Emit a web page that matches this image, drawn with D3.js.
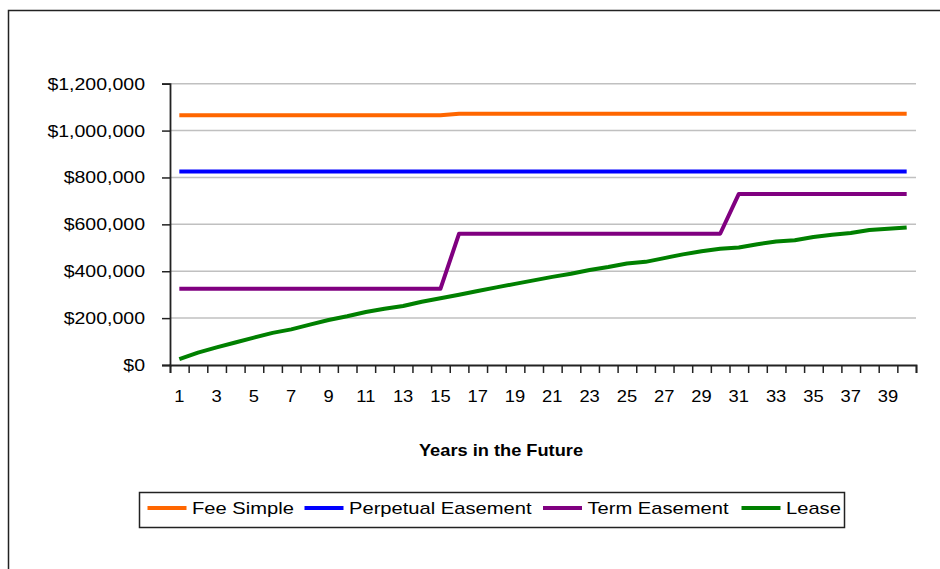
<!DOCTYPE html>
<meta charset="utf-8">
<head>
  <style>
    body { margin:0; background:#fff; }
    text { font-family: Arial, "Liberation Sans", sans-serif; fill:#000; }
  </style>
  <script src="https://d3js.org/d3.v7.min.js"></script>
</head>
<body>
<svg></svg>
<script>
  // data
  var years = d3.range(1, 41)
  var feeSimple = years.map(function (y) { return y <= 15 ? 1065000 : 1072000 })
  var perpetual = years.map(function () { return 825000 })
  var termEasement = years.map(function (y) { return y <= 15 ? 325000 : (y <= 30 ? 560000 : 730000) })
  var lease = [25000, 53000, 75000, 96000, 117000, 137000, 152000, 172000, 192000, 208000,
               226000, 240000, 252000, 270000, 285000, 300000, 316000, 331000, 346000, 361000,
               376000, 389000, 405000, 418000, 433000, 440000, 456000, 472000, 485000, 496000,
               501000, 515000, 527000, 532000, 546000, 556000, 563000, 576000, 581000, 587000]
  var yTicks = [0, 200000, 400000, 600000, 800000, 1000000, 1200000]
  var xLabels = years.filter(function (y) { return y % 2 === 1 })

  var series = [
    { name: "Fee Simple", color: "#ff6600", values: feeSimple },
    { name: "Perpetual Easement", color: "#0000ff", values: perpetual },
    { name: "Term Easement", color: "#800080", values: termEasement },
    { name: "Lease", color: "#008000", values: lease }
  ]

  var width = 940, height = 569
  var svg = d3.select('svg').attr('width', width).attr('height', height)

  // outer frame, runs off the right and bottom edge
  svg.append('rect')
    .attr('x', 8.5).attr('y', 10.5).attr('width', 960).attr('height', 600)
    .attr('fill', 'none').attr('stroke', '#222').attr('stroke-width', 1.5)

  var xEdge = d3.scaleLinear().domain([0, 40]).range([170, 916])
  var x = function (year) { return xEdge(year - 0.5) }
  var y = d3.scaleLinear().domain([0, 1200000]).range([365, 83.7])

  // stretched text helper, the original is wider than plain Arial
  function label(g, px, py, str, size, sx, anchor, weight) {
    return g.append('text')
      .attr('transform', 'translate(' + px + ',' + py + ') scale(' + sx + ',1)')
      .attr('text-anchor', anchor)
      .attr('font-size', size)
      .attr('font-weight', weight || 'normal')
      .text(str)
  }

  // gridlines
  svg.append('g').selectAll('line')
    .data(yTicks.slice(1))
    .enter().append('line')
      .attr('x1', xEdge(0)).attr('x2', xEdge(40))
      .attr('y1', function (d) { return y(d) }).attr('y2', function (d) { return y(d) })
      .attr('stroke', '#c0c0c0').attr('stroke-width', 1.5)

  // y axis
  var yAxis = svg.append('g').attr('transform', 'translate(' + xEdge(0) + ',0)')
    .call(d3.axisLeft(y).tickValues(yTicks).tickSize(8).tickFormat(''))
  yAxis.select('.domain').attr('stroke', '#222').attr('stroke-width', 1.8)
  yAxis.selectAll('.tick line').attr('stroke', '#222').attr('stroke-width', 1.5)

  var fmt = d3.format(',')
  var yl = svg.append('g')
  yTicks.forEach(function (t) { label(yl, 145, y(t) + 6, '$' + fmt(t), 16, 1.22, 'end') })

  // x axis, ticks between categories
  var xAxis = svg.append('g').attr('transform', 'translate(0,' + y(0) + ')')
    .call(d3.axisBottom(xEdge).tickValues(d3.range(0, 41)).tickSize(8).tickFormat(''))
  xAxis.select('.domain').attr('stroke', '#222').attr('stroke-width', 1.8)
  xAxis.selectAll('.tick line').attr('stroke', '#222').attr('stroke-width', 1.5)

  var xl = svg.append('g')
  xLabels.forEach(function (yr) { label(xl, x(yr), 402, yr, 17, 1.08, 'middle') })

  label(svg, 501, 456, 'Years in the Future', 16, 1.14, 'middle', 'bold')

  // lines
  var line = d3.line()
    .x(function (d, i) { return x(years[i]) })
    .y(function (d) { return y(d) })

  svg.append('g').selectAll('path')
    .data(series)
    .enter().append('path')
      .attr('d', function (s) { return line(s.values) })
      .attr('fill', 'none')
      .attr('stroke', function (s) { return s.color })
      .attr('stroke-width', 4)
      .attr('stroke-linejoin', 'round')

  // legend
  var lg = svg.append('g')
  lg.append('rect')
    .attr('x', 139.5).attr('y', 492.5).attr('width', 705).attr('height', 35)
    .attr('fill', '#fff').attr('stroke', '#222').attr('stroke-width', 1.5)
  var legendX = [147.5, 304.5, 543, 741.5]
  series.forEach(function (s, i) {
    lg.append('line')
      .attr('x1', legendX[i]).attr('x2', legendX[i] + 39)
      .attr('y1', 508).attr('y2', 508)
      .attr('stroke', s.color).attr('stroke-width', 4)
    label(lg, legendX[i] + 44.5, 514, s.name, 16, 1.26, 'start')
  })
</script>
</body>
